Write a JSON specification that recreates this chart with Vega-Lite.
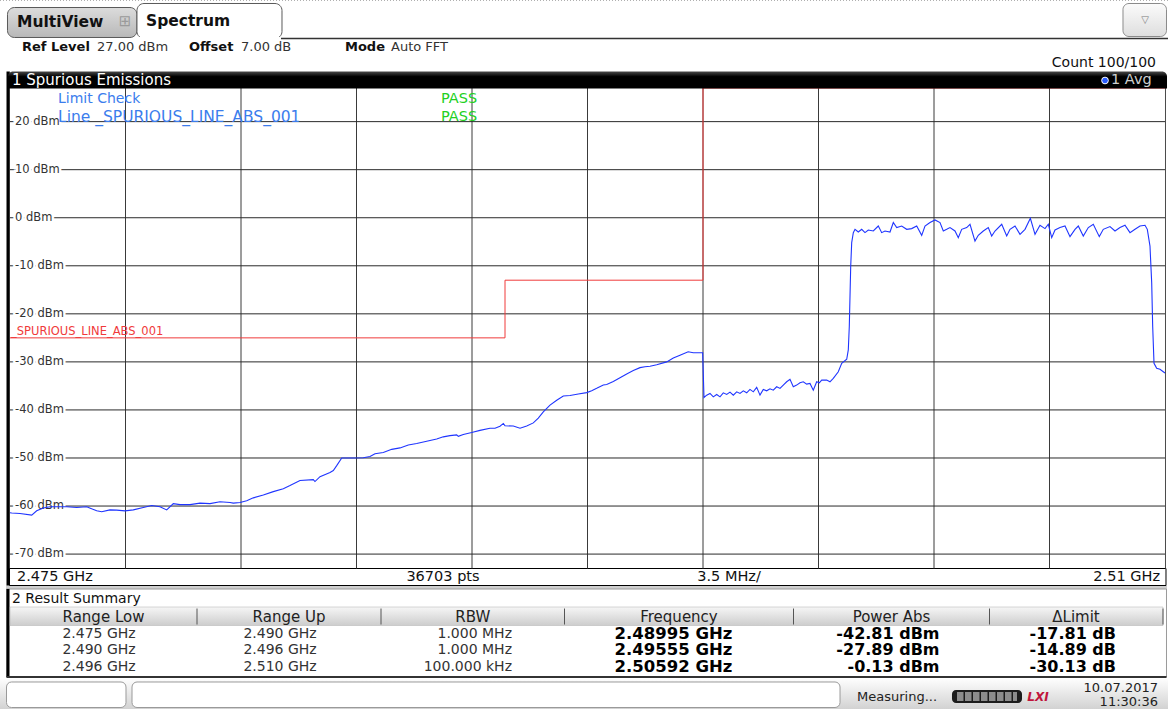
{
"$schema":"https://vega.github.io/schema/vega-lite/v6.json",
"width":1168,"height":709,"padding":0,"autosize":{"type":"none"},
"background":"#ffffff",
"config":{"view":{"stroke":null},"font":"DejaVu Sans","text":{"font":"DejaVu Sans"}},
"datasets":{
"trace":[
{"freq_ghz":2.475000,"level_dbm":-61.40},{"freq_ghz":2.475052,"level_dbm":-61.46},{"freq_ghz":2.475303,"level_dbm":-61.55},{"freq_ghz":2.475658,"level_dbm":-61.90},{"freq_ghz":2.475809,"level_dbm":-61.00},{"freq_ghz":2.476009,"level_dbm":-60.40},{"freq_ghz":2.476212,"level_dbm":-60.15},{"freq_ghz":2.476718,"level_dbm":-60.15},{"freq_ghz":2.477021,"level_dbm":-60.30},{"freq_ghz":2.477324,"level_dbm":-60.15},{"freq_ghz":2.477627,"level_dbm":-61.00},{"freq_ghz":2.477779,"level_dbm":-61.20},{"freq_ghz":2.478030,"level_dbm":-60.80},{"freq_ghz":2.478233,"level_dbm":-60.85},{"freq_ghz":2.478485,"level_dbm":-61.00},{"freq_ghz":2.478736,"level_dbm":-60.80},{"freq_ghz":2.479039,"level_dbm":-60.30},{"freq_ghz":2.479294,"level_dbm":-59.90},{"freq_ghz":2.479545,"level_dbm":-60.15},{"freq_ghz":2.479748,"level_dbm":-60.80},{"freq_ghz":2.479948,"level_dbm":-59.50},{"freq_ghz":2.480152,"level_dbm":-59.70},{"freq_ghz":2.480455,"level_dbm":-59.70},{"freq_ghz":2.480758,"level_dbm":-59.40},{"freq_ghz":2.481061,"level_dbm":-59.50},{"freq_ghz":2.481364,"level_dbm":-59.10},{"freq_ghz":2.481667,"level_dbm":-59.25},{"freq_ghz":2.481767,"level_dbm":-59.40},{"freq_ghz":2.481970,"level_dbm":-59.25},{"freq_ghz":2.482173,"level_dbm":-58.90},{"freq_ghz":2.482373,"level_dbm":-58.30},{"freq_ghz":2.482676,"level_dbm":-57.70},{"freq_ghz":2.482979,"level_dbm":-57.00},{"freq_ghz":2.483282,"level_dbm":-56.40},{"freq_ghz":2.483485,"level_dbm":-55.75},{"freq_ghz":2.483788,"level_dbm":-54.70},{"freq_ghz":2.484191,"level_dbm":-54.50},{"freq_ghz":2.484242,"level_dbm":-54.90},{"freq_ghz":2.484394,"level_dbm":-53.90},{"freq_ghz":2.484697,"level_dbm":-53.00},{"freq_ghz":2.484797,"level_dbm":-52.60},{"freq_ghz":2.484900,"level_dbm":-51.60},{"freq_ghz":2.485052,"level_dbm":-50.00},{"freq_ghz":2.485203,"level_dbm":-50.00},{"freq_ghz":2.485403,"level_dbm":-50.00},{"freq_ghz":2.485706,"level_dbm":-49.95},{"freq_ghz":2.485909,"level_dbm":-49.70},{"freq_ghz":2.486061,"level_dbm":-49.10},{"freq_ghz":2.486312,"level_dbm":-48.85},{"freq_ghz":2.486567,"level_dbm":-48.20},{"freq_ghz":2.486818,"level_dbm":-47.90},{"freq_ghz":2.487070,"level_dbm":-47.30},{"freq_ghz":2.487324,"level_dbm":-47.00},{"freq_ghz":2.487627,"level_dbm":-46.50},{"freq_ghz":2.487930,"level_dbm":-46.05},{"freq_ghz":2.488130,"level_dbm":-45.60},{"freq_ghz":2.488333,"level_dbm":-45.35},{"freq_ghz":2.488536,"level_dbm":-45.20},{"freq_ghz":2.488585,"level_dbm":-45.50},{"freq_ghz":2.488736,"level_dbm":-45.10},{"freq_ghz":2.488991,"level_dbm":-44.70},{"freq_ghz":2.489242,"level_dbm":-44.25},{"freq_ghz":2.489545,"level_dbm":-43.80},{"freq_ghz":2.489697,"level_dbm":-43.80},{"freq_ghz":2.489848,"level_dbm":-43.40},{"freq_ghz":2.489950,"level_dbm":-42.81},{"freq_ghz":2.490000,"level_dbm":-43.30},{"freq_ghz":2.490252,"level_dbm":-43.35},{"freq_ghz":2.490455,"level_dbm":-43.80},{"freq_ghz":2.490658,"level_dbm":-43.35},{"freq_ghz":2.490858,"level_dbm":-42.70},{"freq_ghz":2.491009,"level_dbm":-41.70},{"freq_ghz":2.491161,"level_dbm":-40.40},{"freq_ghz":2.491364,"level_dbm":-39.00},{"freq_ghz":2.491567,"level_dbm":-38.00},{"freq_ghz":2.491767,"level_dbm":-37.10},{"freq_ghz":2.491970,"level_dbm":-37.00},{"freq_ghz":2.492221,"level_dbm":-36.70},{"freq_ghz":2.492476,"level_dbm":-36.40},{"freq_ghz":2.492627,"level_dbm":-36.00},{"freq_ghz":2.492779,"level_dbm":-35.50},{"freq_ghz":2.492979,"level_dbm":-34.80},{"freq_ghz":2.493082,"level_dbm":-34.70},{"freq_ghz":2.493282,"level_dbm":-34.10},{"freq_ghz":2.493485,"level_dbm":-33.30},{"freq_ghz":2.493688,"level_dbm":-32.50},{"freq_ghz":2.493888,"level_dbm":-31.80},{"freq_ghz":2.494091,"level_dbm":-31.20},{"freq_ghz":2.494242,"level_dbm":-31.00},{"freq_ghz":2.494394,"level_dbm":-30.90},{"freq_ghz":2.494597,"level_dbm":-30.60},{"freq_ghz":2.494900,"level_dbm":-30.00},{"freq_ghz":2.495100,"level_dbm":-29.20},{"freq_ghz":2.495303,"level_dbm":-28.60},{"freq_ghz":2.495550,"level_dbm":-27.89},{"freq_ghz":2.495706,"level_dbm":-28.10},{"freq_ghz":2.495990,"level_dbm":-28.10},
{"freq_ghz":2.496030,"level_dbm":-37.41},{"freq_ghz":2.496112,"level_dbm":-36.92},{"freq_ghz":2.496212,"level_dbm":-36.57},{"freq_ghz":2.496312,"level_dbm":-37.28},{"freq_ghz":2.496415,"level_dbm":-36.78},{"freq_ghz":2.496515,"level_dbm":-37.28},{"freq_ghz":2.496615,"level_dbm":-36.44},{"freq_ghz":2.496718,"level_dbm":-36.78},{"freq_ghz":2.496818,"level_dbm":-36.30},{"freq_ghz":2.496918,"level_dbm":-36.92},{"freq_ghz":2.497021,"level_dbm":-36.23},{"freq_ghz":2.497121,"level_dbm":-36.57},{"freq_ghz":2.497221,"level_dbm":-36.02},{"freq_ghz":2.497324,"level_dbm":-36.44},{"freq_ghz":2.497424,"level_dbm":-35.73},{"freq_ghz":2.497524,"level_dbm":-36.23},{"freq_ghz":2.497627,"level_dbm":-35.31},{"freq_ghz":2.497727,"level_dbm":-36.92},{"freq_ghz":2.497827,"level_dbm":-35.73},{"freq_ghz":2.497930,"level_dbm":-36.02},{"freq_ghz":2.498030,"level_dbm":-35.60},{"freq_ghz":2.498130,"level_dbm":-35.88},{"freq_ghz":2.498233,"level_dbm":-35.18},{"freq_ghz":2.498333,"level_dbm":-35.52},{"freq_ghz":2.498433,"level_dbm":-34.83},{"freq_ghz":2.498536,"level_dbm":-34.14},{"freq_ghz":2.498636,"level_dbm":-33.64},{"freq_ghz":2.498736,"level_dbm":-35.18},{"freq_ghz":2.498839,"level_dbm":-34.83},{"freq_ghz":2.498939,"level_dbm":-34.35},{"freq_ghz":2.499039,"level_dbm":-34.14},{"freq_ghz":2.499142,"level_dbm":-34.62},{"freq_ghz":2.499242,"level_dbm":-34.48},{"freq_ghz":2.499342,"level_dbm":-35.88},{"freq_ghz":2.499445,"level_dbm":-34.14},{"freq_ghz":2.499524,"level_dbm":-34.35},{"freq_ghz":2.499597,"level_dbm":-33.79},{"freq_ghz":2.499748,"level_dbm":-33.79},{"freq_ghz":2.499848,"level_dbm":-34.14},{"freq_ghz":2.499948,"level_dbm":-33.43},{"freq_ghz":2.500100,"level_dbm":-32.05},{"freq_ghz":2.500203,"level_dbm":-30.29},{"freq_ghz":2.500355,"level_dbm":-29.46},{"freq_ghz":2.500403,"level_dbm":-27.51},{"freq_ghz":2.500433,"level_dbm":-22.63},{"freq_ghz":2.500476,"level_dbm":-10.08},{"freq_ghz":2.500506,"level_dbm":-5.19},{"freq_ghz":2.500555,"level_dbm":-3.10},{"freq_ghz":2.500606,"level_dbm":-2.41},{"freq_ghz":2.500706,"level_dbm":-2.97},{"freq_ghz":2.500809,"level_dbm":-2.41},{"freq_ghz":2.500909,"level_dbm":-3.10},{"freq_ghz":2.501009,"level_dbm":-2.55},{"freq_ghz":2.501161,"level_dbm":-2.76},{"freq_ghz":2.501312,"level_dbm":-1.72},{"freq_ghz":2.501415,"level_dbm":-3.10},{"freq_ghz":2.501515,"level_dbm":-2.76},{"freq_ghz":2.501667,"level_dbm":-2.97},{"freq_ghz":2.501767,"level_dbm":-1.00},{"freq_ghz":2.501870,"level_dbm":-2.05},{"freq_ghz":2.502021,"level_dbm":-1.72},{"freq_ghz":2.502173,"level_dbm":-2.41},{"freq_ghz":2.502324,"level_dbm":-2.26},{"freq_ghz":2.502476,"level_dbm":-1.72},{"freq_ghz":2.502627,"level_dbm":-3.66},{"freq_ghz":2.502727,"level_dbm":-1.72},{"freq_ghz":2.502879,"level_dbm":-1.00},{"freq_ghz":2.503030,"level_dbm":-0.46},{"freq_ghz":2.503182,"level_dbm":-1.00},{"freq_ghz":2.503282,"level_dbm":-2.76},{"freq_ghz":2.503385,"level_dbm":-2.41},{"freq_ghz":2.503485,"level_dbm":-2.05},{"freq_ghz":2.503636,"level_dbm":-2.76},{"freq_ghz":2.503736,"level_dbm":-4.14},{"freq_ghz":2.503839,"level_dbm":-2.41},{"freq_ghz":2.503991,"level_dbm":-2.05},{"freq_ghz":2.504091,"level_dbm":-1.36},{"freq_ghz":2.504242,"level_dbm":-4.85},{"freq_ghz":2.504342,"level_dbm":-3.66},{"freq_ghz":2.504494,"level_dbm":-2.76},{"freq_ghz":2.504645,"level_dbm":-2.05},{"freq_ghz":2.504748,"level_dbm":-3.81},{"freq_ghz":2.504848,"level_dbm":-2.76},{"freq_ghz":2.505052,"level_dbm":-1.36},{"freq_ghz":2.505203,"level_dbm":-3.81},{"freq_ghz":2.505303,"level_dbm":-2.41},{"freq_ghz":2.505455,"level_dbm":-1.72},{"freq_ghz":2.505606,"level_dbm":-3.45},{"freq_ghz":2.505758,"level_dbm":-2.41},{"freq_ghz":2.505920,"level_dbm":-0.13},{"freq_ghz":2.506061,"level_dbm":-3.45},{"freq_ghz":2.506212,"level_dbm":-1.57},{"freq_ghz":2.506364,"level_dbm":-2.26},{"freq_ghz":2.506464,"level_dbm":-1.36},{"freq_ghz":2.506567,"level_dbm":-4.14},{"freq_ghz":2.506667,"level_dbm":-2.55},{"freq_ghz":2.506818,"level_dbm":-2.05},{"freq_ghz":2.506970,"level_dbm":-1.72},{"freq_ghz":2.507121,"level_dbm":-3.93},{"freq_ghz":2.507273,"level_dbm":-2.41},{"freq_ghz":2.507373,"level_dbm":-1.72},{"freq_ghz":2.507524,"level_dbm":-3.81},{"freq_ghz":2.507676,"level_dbm":-2.05},{"freq_ghz":2.507827,"level_dbm":-1.36},{"freq_ghz":2.508009,"level_dbm":-3.93},{"freq_ghz":2.508130,"level_dbm":-2.41},{"freq_ghz":2.508333,"level_dbm":-1.84},{"freq_ghz":2.508485,"level_dbm":-2.76},{"freq_ghz":2.508636,"level_dbm":-2.05},{"freq_ghz":2.508788,"level_dbm":-1.57},{"freq_ghz":2.508939,"level_dbm":-3.10},{"freq_ghz":2.509091,"level_dbm":-2.41},{"freq_ghz":2.509242,"level_dbm":-1.72},{"freq_ghz":2.509394,"level_dbm":-1.57},{"freq_ghz":2.509464,"level_dbm":-2.41},{"freq_ghz":2.509545,"level_dbm":-5.90},{"freq_ghz":2.509597,"level_dbm":-13.56},{"freq_ghz":2.509627,"level_dbm":-22.63},{"freq_ghz":2.509667,"level_dbm":-30.29},{"freq_ghz":2.509748,"level_dbm":-31.34},{"freq_ghz":2.509848,"level_dbm":-31.55},{"freq_ghz":2.509948,"level_dbm":-32.05},{"freq_ghz":2.510000,"level_dbm":-32.30}
],
"limit":[{"freq_ghz":2.475,"limit_dbm":-25},{"freq_ghz":2.490,"limit_dbm":-25},{"freq_ghz":2.490,"limit_dbm":-13},{"freq_ghz":2.496,"limit_dbm":-13},{"freq_ghz":2.496,"limit_dbm":30},{"freq_ghz":2.510,"limit_dbm":30}],
"vgrid":[{"freq_ghz":2.4785},{"freq_ghz":2.482},{"freq_ghz":2.4855},{"freq_ghz":2.489},{"freq_ghz":2.4925},{"freq_ghz":2.496},{"freq_ghz":2.4995},{"freq_ghz":2.503},{"freq_ghz":2.5065}],
"levels":[{"level":20,"label":"20 dBm"},{"level":10,"label":"10 dBm"},{"level":0,"label":"0 dBm"},{"level":-10,"label":"-10 dBm"},{"level":-20,"label":"-20 dBm"},{"level":-30,"label":"-30 dBm"},{"level":-40,"label":"-40 dBm"},{"level":-50,"label":"-50 dBm"},{"level":-60,"label":"-60 dBm"},{"level":-70,"label":"-70 dBm"}],
"checks":[{"row":1,"name":"Limit Check","result":"PASS"},{"row":2,"name":"Line _SPURIOUS_LINE_ABS_001","result":"PASS"}],
"results":[
{"row":1,"range_low":"2.475 GHz","range_up":"2.490 GHz","rbw":"1.000 MHz","frequency":"2.48995 GHz","power_abs":"-42.81 dBm","delta_limit":"-17.81 dB"},
{"row":2,"range_low":"2.490 GHz","range_up":"2.496 GHz","rbw":"1.000 MHz","frequency":"2.49555 GHz","power_abs":"-27.89 dBm","delta_limit":"-14.89 dB"},
{"row":3,"range_low":"2.496 GHz","range_up":"2.510 GHz","rbw":"100.000 kHz","frequency":"2.50592 GHz","power_abs":"-0.13 dBm","delta_limit":"-30.13 dB"}],
"columns":[{"col":0,"name":"Range Low"},{"col":1,"name":"Range Up"},{"col":2,"name":"RBW"},{"col":3,"name":"Frequency"},{"col":4,"name":"Power Abs"},{"col":5,"name":"ΔLimit"}],
"settings":[{"slot":0,"setting":"Ref Level","value":"27.00 dBm"},{"slot":1,"setting":"Offset","value":"7.00 dB"},{"slot":2,"setting":"Mode","value":"Auto FFT"}]
},
"resolve":{"scale":{"x":"independent","y":"independent"}},
"layer":[
{"data":{"values":[{"part":"status bar"}]},"mark":{"type":"rect","fill":{"gradient":"linear","x1":0,"y1":0,"x2":0,"y2":1,"stops":[{"offset":0,"color":"#fdfdfd"},{"offset":1,"color":"#d2d2d2"}]}},
 "encoding":{"x":{"datum":2.474697,"type":"quantitative","scale":{"domain":[2.475,2.51],"range":[10,1165],"zero":false,"nice":false},"axis":null},"x2":{"datum":2.510091},"y":{"datum":-96.0,"type":"quantitative","scale":{"domain":[-73,27],"range":[568.5,88],"zero":false,"nice":false},"axis":null},"y2":{"datum":-102.24}}},
{"data":{"values":[{"part":"status field"}]},"mark":{"type":"rect","fill":"#ffffff","stroke":"#9a9a9a","strokeWidth":1,"cornerRadius":5},
 "encoding":{"x":{"datum":2.474894,"type":"quantitative","scale":{"domain":[2.475,2.51],"range":[10,1165],"zero":false,"nice":false},"axis":null},"x2":{"datum":2.478515},"y":{"datum":-96.62,"type":"quantitative","scale":{"domain":[-73,27],"range":[568.5,88],"zero":false,"nice":false},"axis":null},"y2":{"datum":-101.93}}},
{"data":{"values":[{"part":"status message"}]},"mark":{"type":"rect","fill":"#ffffff","stroke":"#9a9a9a","strokeWidth":1,"cornerRadius":5},
 "encoding":{"x":{"datum":2.478697,"type":"quantitative","scale":{"domain":[2.475,2.51],"range":[10,1165],"zero":false,"nice":false},"axis":null},"x2":{"datum":2.500152},"y":{"datum":-96.62,"type":"quantitative","scale":{"domain":[-73,27],"range":[568.5,88],"zero":false,"nice":false},"axis":null},"y2":{"datum":-101.93}}},
{"data":{"values":[{"t":"Measuring..."}]},"mark":{"type":"text","align":"left","baseline":"middle","fontSize":13,"color":"#222222"},
 "encoding":{"text":{"field":"t"},"x":{"datum":2.500667,"type":"quantitative","scale":{"domain":[2.475,2.51],"range":[10,1165],"zero":false,"nice":false},"axis":null},"y":{"datum":-99.64,"type":"quantitative","scale":{"domain":[-73,27],"range":[568.5,88],"zero":false,"nice":false},"axis":null}}},
{"data":{"values":[{"part":"progress"}]},"mark":{"type":"rect","fill":"#1c1c1c","cornerRadius":4},
 "encoding":{"x":{"datum":2.503545,"type":"quantitative","scale":{"domain":[2.475,2.51],"range":[10,1165],"zero":false,"nice":false},"axis":null},"x2":{"datum":2.505667},"y":{"datum":-98.29,"type":"quantitative","scale":{"domain":[-73,27],"range":[568.5,88],"zero":false,"nice":false},"axis":null},"y2":{"datum":-100.99}}},
{"data":{"values":[{"part":"progress segments"}]},"mark":{"type":"rule","stroke":"#8c8c8c","strokeWidth":9,"strokeDash":[6.5,1.5]},
 "encoding":{"x":{"datum":2.503697,"type":"quantitative","scale":{"domain":[2.475,2.51],"range":[10,1165],"zero":false,"nice":false},"axis":null},"x2":{"datum":2.505515},"y":{"datum":-99.64,"type":"quantitative","scale":{"domain":[-73,27],"range":[568.5,88],"zero":false,"nice":false},"axis":null}}},
{"data":{"values":[{"t":"LXI"}]},"mark":{"type":"text","align":"center","baseline":"middle","fontSize":12,"fontStyle":"italic","fontWeight":"bold","color":"#c0143c"},
 "encoding":{"text":{"field":"t"},"x":{"datum":2.506152,"type":"quantitative","scale":{"domain":[2.475,2.51],"range":[10,1165],"zero":false,"nice":false},"axis":null},"y":{"datum":-99.64,"type":"quantitative","scale":{"domain":[-73,27],"range":[568.5,88],"zero":false,"nice":false},"axis":null}}},
{"data":{"values":[{"t":"10.07.2017"}]},"mark":{"type":"text","align":"right","baseline":"middle","fontSize":13,"color":"#222222"},
 "encoding":{"text":{"field":"t"},"x":{"datum":2.509788,"type":"quantitative","scale":{"domain":[2.475,2.51],"range":[10,1165],"zero":false,"nice":false},"axis":null},"y":{"datum":-97.87,"type":"quantitative","scale":{"domain":[-73,27],"range":[568.5,88],"zero":false,"nice":false},"axis":null}}},
{"data":{"values":[{"t":"11:30:36"}]},"mark":{"type":"text","align":"right","baseline":"middle","fontSize":13,"color":"#222222"},
 "encoding":{"text":{"field":"t"},"x":{"datum":2.509788,"type":"quantitative","scale":{"domain":[2.475,2.51],"range":[10,1165],"zero":false,"nice":false},"axis":null},"y":{"datum":-100.78,"type":"quantitative","scale":{"domain":[-73,27],"range":[568.5,88],"zero":false,"nice":false},"axis":null}}},
{"data":{"values":[{"part":"separator"}]},"mark":{"type":"rect","fill":"#cfcfcf"},
 "encoding":{"x":{"datum":2.474879,"type":"quantitative","scale":{"domain":[2.475,2.51],"range":[10,1165],"zero":false,"nice":false},"axis":null},"x2":{"datum":2.510061},"y":{"datum":-76.54,"type":"quantitative","scale":{"domain":[-73,27],"range":[568.5,88],"zero":false,"nice":false},"axis":null},"y2":{"datum":-77.27}}},
{"data":{"values":[{"part":"result panel"}]},"mark":{"type":"rect","fill":"#ffffff","stroke":"#9a9a9a","strokeWidth":1},
 "encoding":{"x":{"datum":2.474894,"type":"quantitative","scale":{"domain":[2.475,2.51],"range":[10,1165],"zero":false,"nice":false},"axis":null},"x2":{"datum":2.510045},"y":{"datum":-77.27,"type":"quantitative","scale":{"domain":[-73,27],"range":[568.5,88],"zero":false,"nice":false},"axis":null},"y2":{"datum":-95.58}}},
{"data":{"values":[{"part":"result panel edge"}]},"mark":{"type":"rect","fill":"#000000"},
 "encoding":{"x":{"datum":2.474894,"type":"quantitative","scale":{"domain":[2.475,2.51],"range":[10,1165],"zero":false,"nice":false},"axis":null},"x2":{"datum":2.474985},"y":{"datum":-77.27,"type":"quantitative","scale":{"domain":[-73,27],"range":[568.5,88],"zero":false,"nice":false},"axis":null},"y2":{"datum":-95.58}}},
{"data":{"values":[{"part":"result panel bottom"}]},"mark":{"type":"rule","stroke":"#333333","strokeWidth":2},
 "encoding":{"x":{"datum":2.474894,"type":"quantitative","scale":{"domain":[2.475,2.51],"range":[10,1165],"zero":false,"nice":false},"axis":null},"x2":{"datum":2.510045},"y":{"datum":-95.58,"type":"quantitative","scale":{"domain":[-73,27],"range":[568.5,88],"zero":false,"nice":false},"axis":null}}},
{"data":{"values":[{"t":"2 Result Summary"}]},"mark":{"type":"text","align":"left","baseline":"middle","fontSize":14,"color":"#111111"},
 "encoding":{"text":{"field":"t"},"x":{"datum":2.475061,"type":"quantitative","scale":{"domain":[2.475,2.51],"range":[10,1165],"zero":false,"nice":false},"axis":null},"y":{"datum":-79.35,"type":"quantitative","scale":{"domain":[-73,27],"range":[568.5,88],"zero":false,"nice":false},"axis":null}}},
{"data":{"values":[{"part":"table header"}]},"mark":{"type":"rect","stroke":"#b0b0b0","strokeWidth":0.5,"fill":{"gradient":"linear","x1":0,"y1":0,"x2":0,"y2":1,"stops":[{"offset":0,"color":"#f6f6f6"},{"offset":1,"color":"#cdcdcd"}]}},
 "encoding":{"x":{"datum":2.475,"type":"quantitative","scale":{"domain":[2.475,2.51],"range":[10,1165],"zero":false,"nice":false},"axis":null},"x2":{"datum":2.509939},"y":{"datum":-81.01,"type":"quantitative","scale":{"domain":[-73,27],"range":[568.5,88],"zero":false,"nice":false},"axis":null},"y2":{"datum":-84.86}}},
{"data":{"name":"columns"},"mark":{"type":"rule","stroke":"#555555","strokeWidth":1},
 "encoding":{"x":{"field":"col","type":"quantitative","scale":{"domain":[0,1,2,3,4,5],"range":[197,381,564.5,793.5,989.5,1163],"zero":false,"nice":false},"axis":null},"y":{"datum":-81.33,"type":"quantitative","scale":{"domain":[-73,27],"range":[568.5,88],"zero":false,"nice":false},"axis":null},"y2":{"datum":-84.66}}},
{"data":{"name":"columns"},"mark":{"type":"text","align":"center","baseline":"middle","fontSize":15,"color":"#222222"},
 "encoding":{"text":{"field":"name"},"x":{"field":"col","type":"quantitative","scale":{"domain":[0,1,2,3,4,5],"range":[103.5,289,472.75,679,891.5,1076],"zero":false,"nice":false},"axis":null},"y":{"datum":-82.99,"type":"quantitative","scale":{"domain":[-73,27],"range":[568.5,88],"zero":false,"nice":false},"axis":null}}},
{"data":{"name":"results"},"mark":{"type":"text","align":"center","baseline":"middle","fontSize":14,"color":"#333333"},
 "encoding":{"text":{"field":"range_low"},"x":{"datum":0,"type":"quantitative","scale":{"domain":[0,1,2,3,4,5],"range":[99,280,512,673.5,939.5,1116],"zero":false,"nice":false},"axis":null},"y":{"field":"row","type":"quantitative","scale":{"domain":[1,3],"range":[633.5,667],"zero":false,"nice":false},"axis":null}}},
{"data":{"name":"results"},"mark":{"type":"text","align":"center","baseline":"middle","fontSize":14,"color":"#333333"},
 "encoding":{"text":{"field":"range_up"},"x":{"datum":1,"type":"quantitative","scale":{"domain":[0,1,2,3,4,5],"range":[99,280,512,673.5,939.5,1116],"zero":false,"nice":false},"axis":null},"y":{"field":"row","type":"quantitative","scale":{"domain":[1,3],"range":[633.5,667],"zero":false,"nice":false},"axis":null}}},
{"data":{"name":"results"},"mark":{"type":"text","align":"right","baseline":"middle","fontSize":14,"color":"#333333"},
 "encoding":{"text":{"field":"rbw"},"x":{"datum":2,"type":"quantitative","scale":{"domain":[0,1,2,3,4,5],"range":[99,280,512,673.5,939.5,1116],"zero":false,"nice":false},"axis":null},"y":{"field":"row","type":"quantitative","scale":{"domain":[1,3],"range":[633.5,667],"zero":false,"nice":false},"axis":null}}},
{"data":{"name":"results"},"mark":{"type":"text","align":"center","baseline":"middle","fontSize":16.5,"fontWeight":"bold","color":"#000000"},
 "encoding":{"text":{"field":"frequency"},"x":{"datum":3,"type":"quantitative","scale":{"domain":[0,1,2,3,4,5],"range":[99,280,512,673.5,939.5,1116],"zero":false,"nice":false},"axis":null},"y":{"field":"row","type":"quantitative","scale":{"domain":[1,3],"range":[633.5,667],"zero":false,"nice":false},"axis":null}}},
{"data":{"name":"results"},"mark":{"type":"text","align":"right","baseline":"middle","fontSize":16,"fontWeight":"bold","color":"#000000"},
 "encoding":{"text":{"field":"power_abs"},"x":{"datum":4,"type":"quantitative","scale":{"domain":[0,1,2,3,4,5],"range":[99,280,512,673.5,939.5,1116],"zero":false,"nice":false},"axis":null},"y":{"field":"row","type":"quantitative","scale":{"domain":[1,3],"range":[633.5,667],"zero":false,"nice":false},"axis":null}}},
{"data":{"name":"results"},"mark":{"type":"text","align":"right","baseline":"middle","fontSize":16,"fontWeight":"bold","color":"#000000"},
 "encoding":{"text":{"field":"delta_limit"},"x":{"datum":5,"type":"quantitative","scale":{"domain":[0,1,2,3,4,5],"range":[99,280,512,673.5,939.5,1116],"zero":false,"nice":false},"axis":null},"y":{"field":"row","type":"quantitative","scale":{"domain":[1,3],"range":[633.5,667],"zero":false,"nice":false},"axis":null}}},
{"data":{"values":[{"part":"sweep bar"}]},"mark":{"type":"rect","fill":"#ffffff","stroke":"#000000","strokeWidth":1},
 "encoding":{"x":{"datum":2.474985,"type":"quantitative","scale":{"domain":[2.475,2.51],"range":[10,1165],"zero":false,"nice":false},"axis":null},"x2":{"datum":2.51003},"y":{"datum":-73,"type":"quantitative","scale":{"domain":[-73,27],"range":[568.5,88],"zero":false,"nice":false},"axis":null},"y2":{"datum":-76.54}}},
{"data":{"values":[{"t":"2.475 GHz"}]},"mark":{"type":"text","align":"left","baseline":"middle","fontSize":14.5,"dx":7,"color":"#111111"},
 "encoding":{"text":{"field":"t"},"x":{"datum":2.475,"type":"quantitative","scale":{"domain":[2.475,2.51],"range":[10,1165],"zero":false,"nice":false},"axis":null},"y":{"datum":-74.77,"type":"quantitative","scale":{"domain":[-73,27],"range":[568.5,88],"zero":false,"nice":false},"axis":null}}},
{"data":{"values":[{"t":"36703 pts"}]},"mark":{"type":"text","align":"center","baseline":"middle","fontSize":14.5,"color":"#111111"},
 "encoding":{"text":{"field":"t"},"x":{"datum":2.488121,"type":"quantitative","scale":{"domain":[2.475,2.51],"range":[10,1165],"zero":false,"nice":false},"axis":null},"y":{"datum":-74.77,"type":"quantitative","scale":{"domain":[-73,27],"range":[568.5,88],"zero":false,"nice":false},"axis":null}}},
{"data":{"values":[{"t":"3.5 MHz/"}]},"mark":{"type":"text","align":"center","baseline":"middle","fontSize":14.5,"color":"#111111"},
 "encoding":{"text":{"field":"t"},"x":{"datum":2.496788,"type":"quantitative","scale":{"domain":[2.475,2.51],"range":[10,1165],"zero":false,"nice":false},"axis":null},"y":{"datum":-74.77,"type":"quantitative","scale":{"domain":[-73,27],"range":[568.5,88],"zero":false,"nice":false},"axis":null}}},
{"data":{"values":[{"t":"2.51 GHz"}]},"mark":{"type":"text","align":"right","baseline":"middle","fontSize":14.5,"dx":-5,"color":"#111111"},
 "encoding":{"text":{"field":"t"},"x":{"datum":2.51,"type":"quantitative","scale":{"domain":[2.475,2.51],"range":[10,1165],"zero":false,"nice":false},"axis":null},"y":{"datum":-74.77,"type":"quantitative","scale":{"domain":[-73,27],"range":[568.5,88],"zero":false,"nice":false},"axis":null}}},
{"data":{"name":"vgrid"},"mark":{"type":"rule","stroke":"#3a3a3a","strokeWidth":1},
 "encoding":{"x":{"field":"freq_ghz","type":"quantitative","scale":{"domain":[2.475,2.51],"range":[10,1165],"zero":false,"nice":false},"axis":null},"y":{"datum":27,"type":"quantitative","scale":{"domain":[-73,27],"range":[568.5,88],"zero":false,"nice":false},"axis":null},"y2":{"datum":-73}}},
{"data":{"name":"levels"},"mark":{"type":"rule","stroke":"#2a2a2a","strokeWidth":1},
 "encoding":{"y":{"field":"level","type":"quantitative","scale":{"domain":[-73,27],"range":[568.5,88],"zero":false,"nice":false},"axis":null},"x":{"datum":2.475,"type":"quantitative","scale":{"domain":[2.475,2.51],"range":[10,1165],"zero":false,"nice":false},"axis":null},"x2":{"datum":2.51}}},
{"data":{"name":"levels"},"mark":{"type":"text","align":"left","baseline":"middle","fontSize":11.5,"dx":5,"fill":"#ffffff","stroke":"#ffffff","strokeWidth":5},
 "encoding":{"text":{"field":"label"},"y":{"field":"level","type":"quantitative","scale":{"domain":[-73,27],"range":[568.5,88],"zero":false,"nice":false},"axis":null},"x":{"datum":2.475,"type":"quantitative","scale":{"domain":[2.475,2.51],"range":[10,1165],"zero":false,"nice":false},"axis":null}}},
{"data":{"name":"levels"},"mark":{"type":"text","align":"left","baseline":"middle","fontSize":11.5,"dx":5,"color":"#333333"},
 "encoding":{"text":{"field":"label"},"y":{"field":"level","type":"quantitative","scale":{"domain":[-73,27],"range":[568.5,88],"zero":false,"nice":false},"axis":null},"x":{"datum":2.475,"type":"quantitative","scale":{"domain":[2.475,2.51],"range":[10,1165],"zero":false,"nice":false},"axis":null}}},
{"data":{"name":"checks"},"mark":{"type":"text","align":"left","baseline":"middle","color":"#3b7ded"},
 "encoding":{"text":{"field":"name"},"size":{"condition":{"test":"datum.row == 2","value":15.5},"value":14},"y":{"field":"row","type":"quantitative","scale":{"domain":[1,2],"range":[99,116.5],"zero":false,"nice":false},"axis":null},"x":{"datum":2.476455,"type":"quantitative","scale":{"domain":[2.475,2.51],"range":[10,1165],"zero":false,"nice":false},"axis":null}}},
{"data":{"name":"checks"},"mark":{"type":"text","align":"left","baseline":"middle","fontSize":14.5,"color":"#22d022"},
 "encoding":{"text":{"field":"result"},"y":{"field":"row","type":"quantitative","scale":{"domain":[1,2],"range":[99,116.5],"zero":false,"nice":false},"axis":null},"x":{"datum":2.488061,"type":"quantitative","scale":{"domain":[2.475,2.51],"range":[10,1165],"zero":false,"nice":false},"axis":null}}},
{"data":{"values":[{"t":"_SPURIOUS_LINE_ABS_001"}]},"mark":{"type":"text","align":"left","baseline":"middle","fontSize":11.5,"dx":1,"dy":-5.5,"color":"#f03a3a"},
 "encoding":{"text":{"field":"t"},"x":{"datum":2.475,"type":"quantitative","scale":{"domain":[2.475,2.51],"range":[10,1165],"zero":false,"nice":false},"axis":null},"y":{"datum":-25,"type":"quantitative","scale":{"domain":[-73,27],"range":[568.5,88],"zero":false,"nice":false},"axis":null}}},
{"data":{"name":"limit"},"mark":{"type":"line","stroke":"#f03a3a","strokeWidth":1,"interpolate":"linear"},
 "encoding":{"x":{"field":"freq_ghz","type":"quantitative","scale":{"domain":[2.475,2.51],"range":[10,1165],"zero":false,"nice":false},"axis":null},"y":{"field":"limit_dbm","type":"quantitative","scale":{"domain":[-73,27],"range":[568.5,88],"zero":false,"nice":false,"clamp":true},"axis":null},"order":{"value":null}}},
{"data":{"name":"trace"},"mark":{"type":"line","stroke":"#1f35ff","strokeWidth":1.1},
 "encoding":{"x":{"field":"freq_ghz","type":"quantitative","scale":{"domain":[2.475,2.51],"range":[10,1165],"zero":false,"nice":false},"axis":null},"y":{"field":"level_dbm","type":"quantitative","scale":{"domain":[-73,27],"range":[568.5,88],"zero":false,"nice":false},"axis":null}}},
{"data":{"values":[{"part":"frame left"}]},"mark":{"type":"rect","fill":"#000000"},
 "encoding":{"x":{"datum":2.474894,"type":"quantitative","scale":{"domain":[2.475,2.51],"range":[10,1165],"zero":false,"nice":false},"axis":null},"x2":{"datum":2.474994},"y":{"datum":30.43,"type":"quantitative","scale":{"domain":[-73,27],"range":[568.5,88],"zero":false,"nice":false},"axis":null},"y2":{"datum":-76.54}}},
{"data":{"values":[{"part":"frame right"}]},"mark":{"type":"rule","stroke":"#4a4a4a","strokeWidth":1},
 "encoding":{"x":{"datum":2.510015,"type":"quantitative","scale":{"domain":[2.475,2.51],"range":[10,1165],"zero":false,"nice":false},"axis":null},"y":{"datum":27,"type":"quantitative","scale":{"domain":[-73,27],"range":[568.5,88],"zero":false,"nice":false},"axis":null},"y2":{"datum":-73}}},
{"data":{"values":[{"part":"title bar"}]},"mark":{"type":"rect","cornerRadiusTopLeft":5,"cornerRadiusTopRight":5,"fill":{"gradient":"linear","x1":0,"y1":0,"x2":0,"y2":1,"stops":[{"offset":0,"color":"#4a4a4a"},{"offset":0.3,"color":"#000000"},{"offset":1,"color":"#000000"}]}},
 "encoding":{"x":{"datum":2.474939,"type":"quantitative","scale":{"domain":[2.475,2.51],"range":[10,1165],"zero":false,"nice":false},"axis":null},"x2":{"datum":2.510061},"y":{"datum":30.434,"type":"quantitative","scale":{"domain":[-73,27],"range":[568.5,88],"zero":false,"nice":false},"axis":null},"y2":{"datum":26.875}}},
{"data":{"values":[{"t":"1 Spurious Emissions"}]},"mark":{"type":"text","align":"left","baseline":"middle","fontSize":15,"color":"#ffffff"},
 "encoding":{"text":{"field":"t"},"x":{"datum":2.475061,"type":"quantitative","scale":{"domain":[2.475,2.51],"range":[10,1165],"zero":false,"nice":false},"axis":null},"y":{"datum":28.561,"type":"quantitative","scale":{"domain":[-73,27],"range":[568.5,88],"zero":false,"nice":false},"axis":null}}},
{"data":{"values":[{"trace_no":1}]},"mark":{"type":"point","filled":true,"fill":"#2a5cff","stroke":"#ffffff","strokeWidth":1,"size":45,"opacity":1},
 "encoding":{"x":{"datum":2.508182,"type":"quantitative","scale":{"domain":[2.475,2.51],"range":[10,1165],"zero":false,"nice":false},"axis":null},"y":{"datum":28.561,"type":"quantitative","scale":{"domain":[-73,27],"range":[568.5,88],"zero":false,"nice":false},"axis":null}}},
{"data":{"values":[{"t":"1 Avg"}]},"mark":{"type":"text","align":"left","baseline":"middle","fontSize":14.5,"color":"#cfcfcf"},
 "encoding":{"text":{"field":"t"},"x":{"datum":2.508364,"type":"quantitative","scale":{"domain":[2.475,2.51],"range":[10,1165],"zero":false,"nice":false},"axis":null},"y":{"datum":28.561,"type":"quantitative","scale":{"domain":[-73,27],"range":[568.5,88],"zero":false,"nice":false},"axis":null}}},
{"data":{"values":[{"part":"top edge"}]},"mark":{"type":"rule","stroke":"#b0b0b0","strokeWidth":1,"strokeDash":[1,2]},
 "encoding":{"x":{"datum":2.474697,"type":"quantitative","scale":{"domain":[2.475,2.51],"range":[10,1165],"zero":false,"nice":false},"axis":null},"x2":{"datum":2.510091},"y":{"datum":45.21,"type":"quantitative","scale":{"domain":[-73,27],"range":[568.5,88],"zero":false,"nice":false},"axis":null}}},
{"data":{"values":[{"part":"tab multiview"}]},"mark":{"type":"rect","stroke":"#5a5a5a","strokeWidth":1,"cornerRadius":7,"fill":{"gradient":"linear","x1":0,"y1":0,"x2":0,"y2":1,"stops":[{"offset":0,"color":"#dcdcdc"},{"offset":1,"color":"#b8b8b8"}]}},
 "encoding":{"x":{"datum":2.474924,"type":"quantitative","scale":{"domain":[2.475,2.51],"range":[10,1165],"zero":false,"nice":false},"axis":null},"x2":{"datum":2.478848},"y":{"datum":43.753,"type":"quantitative","scale":{"domain":[-73,27],"range":[568.5,88],"zero":false,"nice":false},"axis":null},"y2":{"datum":37.51}}},
{"data":{"values":[{"t":"MultiView"}]},"mark":{"type":"text","align":"left","baseline":"middle","fontSize":15.5,"fontWeight":"bold","color":"#111111"},
 "encoding":{"text":{"field":"t"},"x":{"datum":2.475212,"type":"quantitative","scale":{"domain":[2.475,2.51],"range":[10,1165],"zero":false,"nice":false},"axis":null},"y":{"datum":40.632,"type":"quantitative","scale":{"domain":[-73,27],"range":[568.5,88],"zero":false,"nice":false},"axis":null}}},
{"data":{"values":[{"t":"⊞"}]},"mark":{"type":"text","align":"center","baseline":"middle","fontSize":15,"color":"#9a9a9a"},
 "encoding":{"text":{"field":"t"},"x":{"datum":2.478485,"type":"quantitative","scale":{"domain":[2.475,2.51],"range":[10,1165],"zero":false,"nice":false},"axis":null},"y":{"datum":40.84,"type":"quantitative","scale":{"domain":[-73,27],"range":[568.5,88],"zero":false,"nice":false},"axis":null}}},
{"data":{"values":[{"part":"tab spectrum"}]},"mark":{"type":"rect","fill":"#ffffff","stroke":"#5a5a5a","strokeWidth":1,"cornerRadius":7},
 "encoding":{"x":{"datum":2.478848,"type":"quantitative","scale":{"domain":[2.475,2.51],"range":[10,1165],"zero":false,"nice":false},"axis":null},"x2":{"datum":2.483242},"y":{"datum":44.586,"type":"quantitative","scale":{"domain":[-73,27],"range":[568.5,88],"zero":false,"nice":false},"axis":null},"y2":{"datum":37.302}}},
{"data":{"values":[{"part":"tab opening"}]},"mark":{"type":"rule","stroke":"#ffffff","strokeWidth":3},
 "encoding":{"x":{"datum":2.478879,"type":"quantitative","scale":{"domain":[2.475,2.51],"range":[10,1165],"zero":false,"nice":false},"axis":null},"x2":{"datum":2.483212},"y":{"datum":37.302,"type":"quantitative","scale":{"domain":[-73,27],"range":[568.5,88],"zero":false,"nice":false},"axis":null}}},
{"data":{"values":[{"t":"Spectrum"}]},"mark":{"type":"text","align":"left","baseline":"middle","fontSize":15.5,"fontWeight":"bold","color":"#111111"},
 "encoding":{"text":{"field":"t"},"x":{"datum":2.479121,"type":"quantitative","scale":{"domain":[2.475,2.51],"range":[10,1165],"zero":false,"nice":false},"axis":null},"y":{"datum":40.84,"type":"quantitative","scale":{"domain":[-73,27],"range":[568.5,88],"zero":false,"nice":false},"axis":null}}},
{"data":{"values":[{"part":"tab baseline"}]},"mark":{"type":"rule","stroke":"#333333","strokeWidth":1.5},
 "encoding":{"x":{"datum":2.483212,"type":"quantitative","scale":{"domain":[2.475,2.51],"range":[10,1165],"zero":false,"nice":false},"axis":null},"x2":{"datum":2.510091},"y":{"datum":37.302,"type":"quantitative","scale":{"domain":[-73,27],"range":[568.5,88],"zero":false,"nice":false},"axis":null}}},
{"data":{"values":[{"part":"dropdown"}]},"mark":{"type":"rect","stroke":"#8a8a8a","strokeWidth":1,"cornerRadius":6,"fill":{"gradient":"linear","x1":0,"y1":0,"x2":0,"y2":1,"stops":[{"offset":0,"color":"#fbfbfb"},{"offset":1,"color":"#dedede"}]}},
 "encoding":{"x":{"datum":2.508727,"type":"quantitative","scale":{"domain":[2.475,2.51],"range":[10,1165],"zero":false,"nice":false},"axis":null},"x2":{"datum":2.510045},"y":{"datum":44.586,"type":"quantitative","scale":{"domain":[-73,27],"range":[568.5,88],"zero":false,"nice":false},"axis":null},"y2":{"datum":37.718}}},
{"data":{"values":[{"t":"▽"}]},"mark":{"type":"text","align":"center","baseline":"middle","fontSize":10,"color":"#7a7a7a"},
 "encoding":{"text":{"field":"t"},"x":{"datum":2.509394,"type":"quantitative","scale":{"domain":[2.475,2.51],"range":[10,1165],"zero":false,"nice":false},"axis":null},"y":{"datum":41.048,"type":"quantitative","scale":{"domain":[-73,27],"range":[568.5,88],"zero":false,"nice":false},"axis":null}}},
{"data":{"name":"settings"},"mark":{"type":"text","align":"left","baseline":"middle","fontSize":13,"fontWeight":"bold","color":"#111111"},
 "encoding":{"text":{"field":"setting"},"x":{"field":"slot","type":"quantitative","scale":{"domain":[0,1,2],"range":[22,189,345],"zero":false,"nice":false},"axis":null},"y":{"datum":35.429,"type":"quantitative","scale":{"domain":[-73,27],"range":[568.5,88],"zero":false,"nice":false},"axis":null}}},
{"data":{"name":"settings"},"mark":{"type":"text","align":"left","baseline":"middle","fontSize":13,"color":"#333333"},
 "encoding":{"text":{"field":"value"},"x":{"field":"slot","type":"quantitative","scale":{"domain":[0,1,2],"range":[97,241,391],"zero":false,"nice":false},"axis":null},"y":{"datum":35.429,"type":"quantitative","scale":{"domain":[-73,27],"range":[568.5,88],"zero":false,"nice":false},"axis":null}}},
{"data":{"values":[{"t":"Count 100/100"}]},"mark":{"type":"text","align":"right","baseline":"middle","fontSize":14,"color":"#111111"},
 "encoding":{"text":{"field":"t"},"x":{"datum":2.509727,"type":"quantitative","scale":{"domain":[2.475,2.51],"range":[10,1165],"zero":false,"nice":false},"axis":null},"y":{"datum":32.099,"type":"quantitative","scale":{"domain":[-73,27],"range":[568.5,88],"zero":false,"nice":false},"axis":null}}}
]
}
